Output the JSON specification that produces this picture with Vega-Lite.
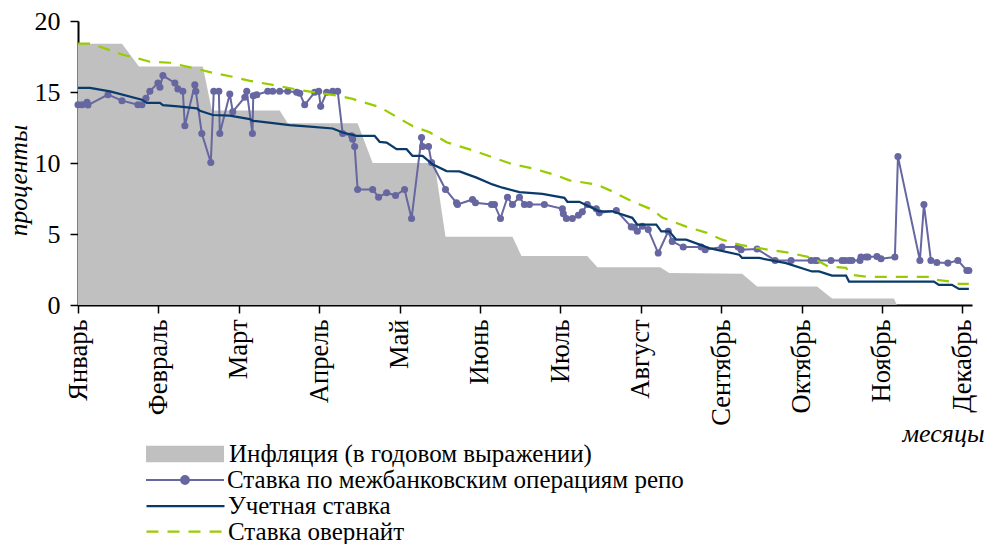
{
  "$schema": "https://vega.github.io/schema/vega-lite/v6.json",
  "width": 894,
  "height": 284,
  "autosize": {"type": "none"},
  "padding": {"left": 78, "top": 21, "right": 12, "bottom": 239},
  "background": "white",
  "config": {
    "font": "Liberation Serif",
    "view": {"stroke": null},
    "axis": {"grid": false, "domainColor": "black", "tickColor": "black", "labelColor": "black", "titleColor": "black", "labelFont": "Liberation Serif", "titleFont": "Liberation Serif"}
  },
  "datasets": {
    "infl": [
      {"m": 0, "v": 18.4}, {"m": 0.547, "v": 18.4}, {"m": 0.758, "v": 16.8}, {"m": 1.553, "v": 16.8},
      {"m": 1.665, "v": 13.7}, {"m": 2.509, "v": 13.7}, {"m": 2.609, "v": 12.8}, {"m": 3.478, "v": 12.8},
      {"m": 3.665, "v": 10.0}, {"m": 4.435, "v": 10.0}, {"m": 4.571, "v": 4.8}, {"m": 5.404, "v": 4.8},
      {"m": 5.516, "v": 3.45}, {"m": 6.335, "v": 3.45}, {"m": 6.46, "v": 2.65}, {"m": 7.242, "v": 2.65},
      {"m": 7.354, "v": 2.25}, {"m": 8.261, "v": 2.2}, {"m": 8.447, "v": 1.3}, {"m": 9.193, "v": 1.3},
      {"m": 9.379, "v": 0.45}, {"m": 10.149, "v": 0.45}, {"m": 10.186, "v": 0}
    ],
    "repo": [
      {"m": 0.0, "v": 14.10}, {"m": 0.05, "v": 14.10}, {"m": 0.112, "v": 14.27}, {"m": 0.124, "v": 14.08},
      {"m": 0.373, "v": 14.81}, {"m": 0.547, "v": 14.39}, {"m": 0.745, "v": 14.10}, {"m": 0.795, "v": 14.10},
      {"m": 0.845, "v": 14.56}, {"m": 0.894, "v": 15.05}, {"m": 0.994, "v": 15.64}, {"m": 1.019, "v": 15.34},
      {"m": 1.056, "v": 16.16}, {"m": 1.205, "v": 15.64}, {"m": 1.242, "v": 15.22}, {"m": 1.304, "v": 15.05},
      {"m": 1.329, "v": 12.62}, {"m": 1.453, "v": 15.50}, {"m": 1.466, "v": 15.05}, {"m": 1.540, "v": 12.08},
      {"m": 1.652, "v": 10.03}, {"m": 1.689, "v": 15.05}, {"m": 1.752, "v": 15.05}, {"m": 1.764, "v": 12.08},
      {"m": 1.888, "v": 14.86}, {"m": 1.925, "v": 13.61}, {"m": 2.075, "v": 14.63}, {"m": 2.099, "v": 15.05},
      {"m": 2.170, "v": 12.08}, {"m": 2.180, "v": 14.74}, {"m": 2.224, "v": 14.81}, {"m": 2.360, "v": 15.05},
      {"m": 2.422, "v": 15.05}, {"m": 2.509, "v": 15.05}, {"m": 2.609, "v": 15.05}, {"m": 2.720, "v": 14.98},
      {"m": 2.758, "v": 14.91}, {"m": 2.820, "v": 14.10}, {"m": 2.944, "v": 14.98}, {"m": 2.994, "v": 15.05},
      {"m": 3.019, "v": 13.99}, {"m": 3.093, "v": 14.98}, {"m": 3.168, "v": 15.05}, {"m": 3.230, "v": 15.05},
      {"m": 3.292, "v": 12.08}, {"m": 3.404, "v": 11.91}, {"m": 3.416, "v": 11.68}, {"m": 3.441, "v": 11.16},
      {"m": 3.478, "v": 8.14}, {"m": 3.665, "v": 8.14}, {"m": 3.739, "v": 7.59}, {"m": 3.839, "v": 7.91},
      {"m": 3.950, "v": 7.71}, {"m": 4.062, "v": 8.14}, {"m": 4.149, "v": 6.09}, {"m": 4.273, "v": 11.80},
      {"m": 4.286, "v": 11.16}, {"m": 4.360, "v": 11.16}, {"m": 4.398, "v": 10.03}, {"m": 4.571, "v": 8.14},
      {"m": 4.708, "v": 7.20}, {"m": 4.720, "v": 7.08}, {"m": 4.907, "v": 7.43}, {"m": 4.944, "v": 7.20},
      {"m": 5.143, "v": 7.08}, {"m": 5.180, "v": 7.08}, {"m": 5.255, "v": 6.09}, {"m": 5.342, "v": 7.59},
      {"m": 5.404, "v": 7.08}, {"m": 5.491, "v": 7.59}, {"m": 5.553, "v": 7.08}, {"m": 5.615, "v": 7.08},
      {"m": 5.801, "v": 7.08}, {"m": 6.025, "v": 6.77}, {"m": 6.037, "v": 6.42}, {"m": 6.075, "v": 6.09},
      {"m": 6.149, "v": 6.09}, {"m": 6.224, "v": 6.32}, {"m": 6.273, "v": 6.56}, {"m": 6.335, "v": 7.08},
      {"m": 6.447, "v": 6.77}, {"m": 6.484, "v": 6.49}, {"m": 6.696, "v": 6.65}, {"m": 6.882, "v": 5.50},
      {"m": 6.919, "v": 5.47}, {"m": 6.957, "v": 5.19}, {"m": 7.019, "v": 5.54}, {"m": 7.093, "v": 5.31},
      {"m": 7.217, "v": 3.66}, {"m": 7.342, "v": 5.19}, {"m": 7.391, "v": 4.48}, {"m": 7.528, "v": 4.08},
      {"m": 7.752, "v": 4.08}, {"m": 7.801, "v": 3.89}, {"m": 8.012, "v": 4.08}, {"m": 8.211, "v": 4.08},
      {"m": 8.248, "v": 3.89}, {"m": 8.447, "v": 3.94}, {"m": 8.671, "v": 3.14}, {"m": 8.870, "v": 3.14},
      {"m": 9.118, "v": 3.14}, {"m": 9.168, "v": 3.14}, {"m": 9.193, "v": 3.14}, {"m": 9.366, "v": 3.14},
      {"m": 9.503, "v": 3.14}, {"m": 9.540, "v": 3.14}, {"m": 9.590, "v": 3.14}, {"m": 9.627, "v": 3.14},
      {"m": 9.727, "v": 3.14}, {"m": 9.739, "v": 3.38}, {"m": 9.801, "v": 3.38}, {"m": 9.826, "v": 3.38},
      {"m": 9.938, "v": 3.42}, {"m": 9.988, "v": 3.26}, {"m": 10.161, "v": 3.38}, {"m": 10.199, "v": 10.45},
      {"m": 10.472, "v": 3.14}, {"m": 10.522, "v": 7.08}, {"m": 10.609, "v": 3.14}, {"m": 10.683, "v": 2.99},
      {"m": 10.820, "v": 2.95}, {"m": 10.944, "v": 3.14}, {"m": 11.056, "v": 2.43}, {"m": 11.081, "v": 2.43}
    ],
    "disc": [
      {"m": 0, "v": 15.29}, {"m": 0.149, "v": 15.29}, {"m": 0.398, "v": 15.05}, {"m": 0.795, "v": 14.46},
      {"m": 0.857, "v": 14.23}, {"m": 1.019, "v": 14.23}, {"m": 1.056, "v": 14.08}, {"m": 1.242, "v": 13.99},
      {"m": 1.478, "v": 13.85}, {"m": 1.516, "v": 13.68}, {"m": 1.677, "v": 13.38}, {"m": 1.888, "v": 13.33},
      {"m": 2.137, "v": 13.09}, {"m": 2.174, "v": 12.97}, {"m": 2.348, "v": 12.86}, {"m": 2.634, "v": 12.67},
      {"m": 2.845, "v": 12.58}, {"m": 3.168, "v": 12.43}, {"m": 3.292, "v": 12.15}, {"m": 3.466, "v": 11.91},
      {"m": 3.689, "v": 11.91}, {"m": 3.752, "v": 11.49}, {"m": 3.839, "v": 11.44}, {"m": 3.963, "v": 10.97},
      {"m": 4.087, "v": 10.97}, {"m": 4.161, "v": 10.50}, {"m": 4.286, "v": 10.50}, {"m": 4.410, "v": 9.91},
      {"m": 4.584, "v": 9.43}, {"m": 4.745, "v": 9.41}, {"m": 4.957, "v": 8.97}, {"m": 5.155, "v": 8.49},
      {"m": 5.280, "v": 8.26}, {"m": 5.491, "v": 7.95}, {"m": 5.776, "v": 7.83}, {"m": 6.050, "v": 7.55},
      {"m": 6.087, "v": 7.27}, {"m": 6.236, "v": 7.27}, {"m": 6.484, "v": 6.60}, {"m": 6.646, "v": 6.60},
      {"m": 6.894, "v": 6.14}, {"m": 6.957, "v": 5.66}, {"m": 7.193, "v": 5.66}, {"m": 7.255, "v": 5.19},
      {"m": 7.354, "v": 5.19}, {"m": 7.441, "v": 4.60}, {"m": 7.565, "v": 4.60}, {"m": 7.851, "v": 4.01},
      {"m": 8.224, "v": 3.54}, {"m": 8.261, "v": 3.31}, {"m": 8.472, "v": 3.31}, {"m": 8.807, "v": 2.95},
      {"m": 9.130, "v": 2.36}, {"m": 9.217, "v": 2.36}, {"m": 9.379, "v": 2.07}, {"m": 9.553, "v": 2.07},
      {"m": 9.590, "v": 1.65}, {"m": 10.646, "v": 1.65}, {"m": 10.708, "v": 1.42}, {"m": 10.870, "v": 1.42},
      {"m": 10.957, "v": 1.13}, {"m": 11.081, "v": 1.13}
    ],
    "over": [
      {"m": 0, "v": 18.40}, {"m": 0.186, "v": 18.40}, {"m": 0.273, "v": 18.19}, {"m": 0.559, "v": 17.62},
      {"m": 0.807, "v": 17.27}, {"m": 0.894, "v": 17.13}, {"m": 1.143, "v": 17.06}, {"m": 1.478, "v": 16.63},
      {"m": 1.677, "v": 16.35}, {"m": 1.925, "v": 16.07}, {"m": 2.137, "v": 15.78}, {"m": 2.422, "v": 15.50},
      {"m": 2.758, "v": 15.14}, {"m": 3.255, "v": 14.72}, {"m": 3.416, "v": 14.51}, {"m": 3.752, "v": 13.94},
      {"m": 4.161, "v": 12.60}, {"m": 4.373, "v": 12.17}, {"m": 4.584, "v": 11.46}, {"m": 4.907, "v": 10.90},
      {"m": 5.155, "v": 10.40}, {"m": 5.404, "v": 9.91}, {"m": 5.652, "v": 9.63}, {"m": 5.950, "v": 9.13},
      {"m": 6.112, "v": 8.78}, {"m": 6.447, "v": 8.49}, {"m": 6.646, "v": 8.00}, {"m": 6.894, "v": 7.29},
      {"m": 7.143, "v": 6.72}, {"m": 7.267, "v": 6.16}, {"m": 7.565, "v": 5.52}, {"m": 7.814, "v": 5.10},
      {"m": 8.012, "v": 4.60}, {"m": 8.224, "v": 4.25}, {"m": 8.435, "v": 4.03}, {"m": 8.845, "v": 3.68},
      {"m": 9.130, "v": 3.33}, {"m": 9.342, "v": 2.69}, {"m": 9.553, "v": 2.62}, {"m": 9.615, "v": 2.12},
      {"m": 9.839, "v": 1.98}, {"m": 10.621, "v": 1.98}, {"m": 10.683, "v": 1.77}, {"m": 10.870, "v": 1.63},
      {"m": 10.957, "v": 1.49}, {"m": 11.081, "v": 1.49}
    ]
  },
  "encoding": {
    "x": {
      "field": "m", "type": "quantitative",
      "scale": {"domain": [0, 11.12], "nice": false, "zero": false},
      "axis": {
        "values": [0, 1, 2, 3, 4, 5, 6, 7, 8, 9, 10, 11],
        "labelExpr": "['Январь','Февраль','Март','Апрель','Май','Июнь','Июль','Август','Сентябрь','Октябрь','Ноябрь','Декабрь'][datum.value]",
        "labelAngle": -90, "labelAlign": "right", "labelBaseline": "middle",
        "labelFontSize": 26.5, "labelPadding": 6, "labelOverlap": false, "labelFlush": false,
        "tickSize": 8, "tickWidth": 1.5, "domainWidth": 2,
        "title": "месяцы", "titleFontSize": 26, "titleFontStyle": "italic", "titleFontWeight": "normal",
        "titleX": 906, "titleY": 128, "titleAlign": "right", "titleBaseline": "middle", "titleAngle": 0
      }
    },
    "y": {
      "field": "v", "type": "quantitative",
      "scale": {"domain": [0, 20], "nice": false},
      "axis": {
        "values": [0, 5, 10, 15, 20],
        "labelFontSize": 26, "labelPadding": 10, "tickSize": 8, "tickWidth": 1.5, "domainWidth": 2,
        "title": "проценты", "titleFontSize": 25.5, "titleFontStyle": "italic", "titleFontWeight": "normal",
        "titleX": -60, "titleY": 159, "titleAngle": -90, "titleAlign": "center", "titleBaseline": "middle"
      }
    }
  },
  "layer": [
    {
      "data": {"name": "infl"},
      "mark": {"type": "area", "opacity": 1},
      "encoding": {
        "color": {
          "datum": "Инфляция (в годовом выражении)", "type": "nominal",
          "scale": {"range": ["#c0c0c0"]},
          "legend": {
            "orient": "none", "legendX": 67, "legendY": 393, "title": null, "padding": 0,
            "symbolType": "M-1,-0.21H1V0.21H-1Z", "symbolSize": 6084,
            "labelFontSize": 25, "labelFont": "Liberation Serif", "labelColor": "black", "labelLimit": 700, "labelOffset": 4,
            "encode": {"symbols": {"update": {"fill": {"value": "#c0c0c0"}, "strokeWidth": {"value": 0}, "opacity": {"value": 1}}}}
          }
        }
      }
    },
    {
      "data": {"name": "repo"},
      "mark": {"type": "line", "strokeWidth": 2, "point": {"filled": true, "size": 50, "opacity": 1}},
      "encoding": {
        "color": {
          "datum": "Ставка по межбанковским операциям репо", "type": "nominal",
          "scale": {"range": ["#6666a0"]},
          "legend": {
            "orient": "none", "legendX": 67, "legendY": 419, "title": null, "padding": 0,
            "symbolType": "M-1,0H1M0.1,0A0.1,0.1,0,1,1,-0.1,0A0.1,0.1,0,1,1,0.1,0", "symbolSize": 6084,
            "labelFontSize": 25, "labelFont": "Liberation Serif", "labelColor": "black", "labelLimit": 700, "labelOffset": 2,
            "encode": {"symbols": {"update": {"fill": {"value": "#6666a0"}, "stroke": {"value": "#6666a0"}, "strokeWidth": {"value": 2}, "opacity": {"value": 1}}}}
          }
        }
      }
    },
    {
      "data": {"name": "disc"},
      "mark": {"type": "line", "strokeWidth": 2.25},
      "encoding": {
        "color": {
          "datum": "Учетная ставка", "type": "nominal",
          "scale": {"range": ["#0a3a6a"]},
          "legend": {
            "orient": "none", "legendX": 67, "legendY": 444.5, "title": null, "padding": 0,
            "symbolType": "stroke", "symbolSize": 6084,
            "labelFontSize": 25, "labelFont": "Liberation Serif", "labelColor": "black", "labelLimit": 700, "labelOffset": 2,
            "encode": {"symbols": {"update": {"stroke": {"value": "#0a3a6a"}, "strokeWidth": {"value": 2.25}, "opacity": {"value": 1}}}}
          }
        }
      }
    },
    {
      "data": {"name": "over"},
      "mark": {"type": "line", "strokeWidth": 2.25, "strokeDash": [12, 9]},
      "encoding": {
        "color": {
          "datum": "Ставка овернайт", "type": "nominal",
          "scale": {"range": ["#99cc00"]},
          "legend": {
            "orient": "none", "legendX": 67, "legendY": 470, "title": null, "padding": 0,
            "symbolType": "stroke", "symbolSize": 6084,
            "labelFontSize": 25, "labelFont": "Liberation Serif", "labelColor": "black", "labelLimit": 700, "labelOffset": 2,
            "encode": {"symbols": {"update": {"stroke": {"value": "#99cc00"}, "strokeWidth": {"value": 2.25}, "strokeDash": {"value": [12, 9]}, "opacity": {"value": 1}}}}
          }
        }
      }
    }
  ],
  "resolve": {"scale": {"color": "independent"}, "legend": {"color": "independent"}}
}
